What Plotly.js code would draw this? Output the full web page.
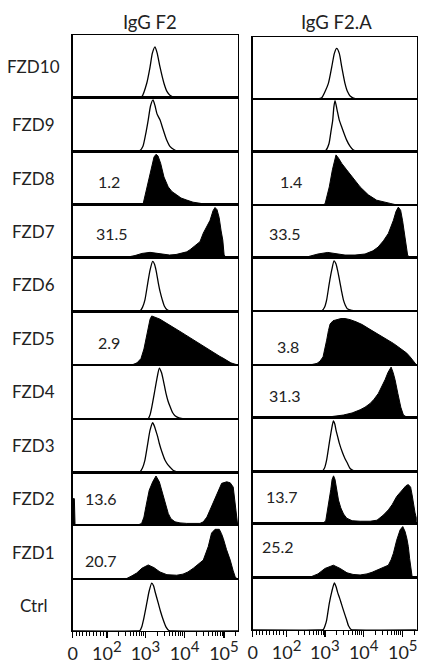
<!DOCTYPE html>
<html>
<head>
<meta charset="utf-8">
<script src="https://cdn.plot.ly/plotly-3.0.1.min.js"></script>
<style>
  html, body { margin: 0; padding: 0; background: #fff; }
  #chart { width: 424px; height: 666px; }
</style>
</head>
<body>
<div id="chart"></div>
<script>
// ---------------- DATA ----------------
const rowNames = ["FZD10","FZD9","FZD8","FZD7","FZD6","FZD5","FZD4","FZD3","FZD2","FZD1","Ctrl"];
const colTitles = ["IgG F2","IgG F2.A"];
const tickVals = [0, 207, 440, 677, 915];
const tickBase = ["0","10","10","10","10"];
const tickExp  = ["","2","3","4","5"];

// percentages shown in each row ("" = none)
const f2Pct  = ["", "", "1.2", "31.5", "", "2.9", "", "", "13.6", "20.7", ""];
const f2aPct = ["", "", "1.4", "33.5", "", "3.8", "31.3", "", "13.7", "25.2", ""];

// filled (stained) vs open (unstained) histograms
const f2Filled  = [false,false,true,true,false,true,false,false,true,true,false];
const f2aFilled = [false,false,true,true,false,true,true,false,true,true,false];

// histogram curves: x in display channel units (0-1000), y = normalised count
const f2X = [
  [0,395,419,448,468,482,498,511,528,552,570,588,625,1000],
  [0,383,407,425,443,457,471,486,498,510,528,546,568,588,612,636,661,1000],
  [0,407,427,451,472,492,504,516,532,552,578,601,629,655,690,728,770,800,1000],
  [0,286,329,377,419,468,516,559,586,625,661,690,710,730,752,770,790,812,831,849,861,873,886,898,908,916,928,988,1000],
  [0,383,407,422,437,454,468,484,495,504,518,528,542,555,569,588,613,1000],
  [0,335,365,389,413,431,443,456,468,478,498,528,559,588,619,649,685,730,770,800,831,861,891,909,933,957,988,1000],
  [0,431,457,468,479,494,508,524,537,548,564,577,589,604,619,643,673,1000],
  [0,383,407,422,437,454,468,484,495,502,514,524,540,558,574,588,607,631,654,1000],
  [0,10,14,20,347,395,417,431,443,463,484,504,524,534,548,564,578,594,619,649,690,770,790,812,840,871,901,932,953,971,983,992,998,1000],
  [0,286,327,359,387,419,457,492,528,570,629,667,697,730,758,790,820,840,861,887,900,911,930,953,971,983,995,1000],
  [0,383,407,418,428,448,462,478,489,498,518,531,548,564,582,607,1000]
];
const f2Y = [
  [0,0,0.02,0.23,0.49,0.71,0.81,0.71,0.49,0.23,0.1,0.04,0,0],
  [0,0,0.02,0.1,0.35,0.59,0.85,0.96,0.85,0.7,0.59,0.42,0.22,0.1,0.04,0.01,0,0],
  [0,0,0.02,0.33,0.65,0.9,0.95,0.92,0.78,0.52,0.33,0.24,0.18,0.12,0.08,0.04,0.02,0,0],
  [0,0,0.01,0.04,0.08,0.1,0.08,0.05,0.05,0.06,0.08,0.11,0.15,0.2,0.25,0.3,0.46,0.58,0.7,0.88,0.94,0.9,0.75,0.5,0.33,0.05,0.01,0,0],
  [0,0,0.01,0.08,0.22,0.53,0.77,0.93,0.88,0.77,0.53,0.38,0.22,0.1,0.04,0.01,0,0],
  [0,0,0.01,0.04,0.12,0.3,0.5,0.7,0.86,0.92,0.9,0.86,0.8,0.74,0.69,0.63,0.56,0.47,0.39,0.33,0.28,0.22,0.16,0.13,0.08,0.04,0.01,0],
  [0,0,0.01,0.08,0.23,0.48,0.72,0.94,0.86,0.72,0.48,0.33,0.23,0.12,0.06,0.02,0,0],
  [0,0,0.01,0.08,0.23,0.54,0.79,0.93,0.86,0.79,0.67,0.54,0.38,0.23,0.15,0.1,0.04,0.01,0,0],
  [0.5,0.5,0.02,0,0,0,0.03,0.15,0.35,0.66,0.82,0.93,0.82,0.7,0.54,0.36,0.22,0.12,0.06,0.04,0.03,0.03,0.06,0.15,0.35,0.6,0.79,0.82,0.8,0.72,0.4,0.05,0,0],
  [0,0,0.01,0.06,0.11,0.2,0.26,0.21,0.13,0.08,0.07,0.09,0.13,0.2,0.27,0.35,0.6,0.85,0.92,0.92,0.84,0.75,0.55,0.35,0.15,0.04,0,0],
  [0,0,0.01,0.08,0.21,0.53,0.76,0.92,0.87,0.76,0.53,0.38,0.21,0.08,0.01,0,0]
];
const f2aX = [
  [0,398,421,461,482,498,512,528,543,563,578,594,630,1000],
  [0,423,447,465,478,488,495,502,514,528,545,573,594,614,642,1000],
  [0,423,441,467,486,500,508,523,543,573,604,655,705,756,838,880,1000],
  [0,289,337,398,458,508,563,624,685,733,764,797,827,858,874,888,902,914,926,935,945,960,996,1000],
  [0,398,423,438,451,467,482,496,508,517,533,542,553,566,577,604,630,1000],
  [0,319,362,392,410,429,441,451,462,472,490,514,538,563,594,630,667,715,756,807,858,899,939,960,978,990,999,1000],
  [0,380,453,553,606,655,685,716,740,766,789,807,825,844,856,868,885,893,903,919,940,960,1000],
  [0,398,423,438,451,467,480,492,501,508,518,528,549,563,577,594,614,637,1000],
  [0,398,429,445,461,476,484,493,502,512,523,537,554,573,606,655,716,758,797,827,850,878,899,919,935,949,963,972,981,990,999,1000],
  [0,319,350,398,441,492,533,575,612,655,697,728,756,789,827,844,858,878,899,915,929,940,949,957,964,972,984,1000],
  [0,398,431,441,451,467,482,498,508,517,533,543,553,573,584,600,624,1000]
];
const f2aY = [
  [0,0,0.02,0.25,0.52,0.74,0.82,0.74,0.52,0.25,0.12,0.05,0,0],
  [0,0,0.03,0.15,0.4,0.6,0.85,0.97,0.8,0.6,0.45,0.22,0.1,0.03,0,0],
  [0,0,0.02,0.34,0.66,0.88,0.94,0.88,0.78,0.66,0.53,0.34,0.19,0.09,0.03,0,0],
  [0,0,0.02,0.07,0.1,0.08,0.05,0.05,0.07,0.13,0.2,0.32,0.46,0.71,0.88,0.96,0.9,0.7,0.45,0.2,0.04,0.01,0,0],
  [0,0,0.01,0.07,0.21,0.52,0.77,0.94,0.88,0.77,0.52,0.37,0.21,0.1,0.04,0.01,0,0],
  [0,0,0.01,0.03,0.07,0.15,0.3,0.46,0.64,0.76,0.82,0.84,0.86,0.86,0.84,0.8,0.75,0.66,0.59,0.5,0.4,0.31,0.22,0.15,0.07,0.03,0,0],
  [0,0,0.01,0.05,0.09,0.15,0.2,0.27,0.35,0.46,0.6,0.72,0.86,0.96,0.86,0.72,0.46,0.35,0.2,0.05,0.01,0,0],
  [0,0,0.01,0.07,0.22,0.53,0.77,0.94,0.88,0.77,0.65,0.53,0.34,0.24,0.16,0.06,0.02,0,0],
  [0,0,0.01,0.04,0.32,0.65,0.85,0.92,0.85,0.65,0.45,0.3,0.18,0.1,0.05,0.04,0.04,0.06,0.16,0.26,0.36,0.52,0.6,0.68,0.73,0.75,0.7,0.55,0.35,0.2,0.1,0],
  [0,0,0.01,0.07,0.17,0.23,0.17,0.09,0.06,0.05,0.07,0.1,0.14,0.18,0.23,0.33,0.45,0.69,0.88,0.94,0.85,0.72,0.57,0.35,0.14,0.02,0,0],
  [0,0,0.01,0.08,0.19,0.51,0.73,0.9,0.83,0.73,0.58,0.48,0.38,0.19,0.08,0.01,0,0]
];

// ---------------- LAYOUT (pixel geometry) ----------------
const W = 424, H = 666;
const FONT = "Lato, 'Open Sans', sans-serif";
const colX = [[72.7, 238], [252.7, 416.7]];
const rowEdges = [
  [35, 97.7, 151.7, 204.3, 257.7, 311.7, 365, 419, 472.3, 525, 579, 631],
  [37.3, 99, 151.7, 205, 257.7, 311, 365, 417.7, 471.7, 523.3, 577.7, 630]
];
const pctPos = [
  [null,null,[141,0.44],[131,0.46],null,[141,0.42],null,null,[64,0.51],[64,0.35],null],
  [null,null,[156,0.45],[85,0.46],null,[136,0.35],[85,0.43],null,[69,0.52],[45,0.58],null]
];
const titlePx = [[150, 22], [336.7, 22]];
const rowLabelX = 33;

const px2x = p => p / W;
const px2y = p => 1 - p / H;

const tickText = tickBase.map((b, i) =>
  tickExp[i] ? b + "<sup><span style='font-size:15px'>" + tickExp[i] + "</span></sup>" : b);

const cols = [
  {X: f2X, Y: f2Y, filled: f2Filled, pct: f2Pct},
  {X: f2aX, Y: f2aY, filled: f2aFilled, pct: f2aPct}
];

// minor tick positions (logicle-like display)
const minorVals = [];
for (let m = 1; m <= 9; m++) minorVals.push(tickVals[1] * m / 10);
for (let i = 1; i < tickVals.length - 1; i++) {
  for (let m = 2; m <= 9; m++) minorVals.push(tickVals[i] + (tickVals[i+1] - tickVals[i]) * Math.log10(m));
}
minorVals.push(tickVals[4] + (tickVals[4] - tickVals[3]) * Math.log10(2));

const traces = [];
const layout = {
  width: W, height: H,
  margin: {l: 0, r: 0, t: 0, b: 0},
  paper_bgcolor: "#fff", plot_bgcolor: "#fff",
  showlegend: false,
  font: {family: FONT, color: "#000", size: 16},
  annotations: []
};

let k = 0;
cols.forEach((col, c) => {
  for (let r = 0; r < rowNames.length; r++) {
    k++;
    const xa = "xaxis" + (k === 1 ? "" : k), ya = "yaxis" + (k === 1 ? "" : k);
    const xr = "x" + (k === 1 ? "" : k), yr = "y" + (k === 1 ? "" : k);
    const bottom = r === rowNames.length - 1;
    layout[xa] = {
      domain: [px2x(colX[c][0]), px2x(colX[c][1])],
      anchor: yr, range: [0, 1000], fixedrange: true,
      showline: true, mirror: true, linecolor: "#000", linewidth: 1.4,
      showgrid: false, zeroline: false,
      showticklabels: bottom, ticks: bottom ? "outside" : "",
      tickmode: "array", tickvals: tickVals, ticktext: tickText,
      ticklen: 6, tickwidth: 1.3, tickcolor: "#000",
      tickfont: {family: FONT, size: 18, color: "#222"}
    };
    if (bottom) {
      layout[xa].minor = {tickmode: "array", tickvals: minorVals, ticks: "outside", ticklen: 4, tickwidth: 1, tickcolor: "#000"};
    }
    layout[ya] = {
      domain: [px2y(rowEdges[c][r+1]), px2y(rowEdges[c][r])],
      anchor: xr, range: [0, 1], fixedrange: true,
      showline: true, mirror: true, linecolor: "#000", linewidth: 1.4,
      showgrid: false, zeroline: false, showticklabels: false, ticks: ""
    };
    const filled = col.filled[r];
    traces.push({
      type: "scatter", mode: "lines",
      x: col.X[r], y: col.Y[r], xaxis: xr, yaxis: yr,
      line: {color: "#000", width: filled ? 1 : 1.3, shape: filled ? "linear" : "spline", smoothing: 0.6},
      fill: filled ? "tozeroy" : "none", fillcolor: "#000",
      hoverinfo: "skip"
    });
    if (col.pct[r]) {
      const p = pctPos[c][r];
      layout.annotations.push({
        xref: xr, yref: yr, x: p[0], y: p[1], xanchor: "left", yanchor: "middle",
        text: col.pct[r], showarrow: false, font: {family: FONT, size: 16, color: "#222"}
      });
    }
  }
});

// row labels
rowNames.forEach((name, r) => {
  const mid = (rowEdges[0][r] + rowEdges[0][r+1]) / 2;
  layout.annotations.push({
    xref: "paper", yref: "paper", x: px2x(rowLabelX), y: px2y(mid),
    xanchor: "center", yanchor: "middle", text: name, showarrow: false,
    font: {family: FONT, size: 17, color: "#222"}
  });
});
// column titles
colTitles.forEach((t, c) => {
  layout.annotations.push({
    xref: "paper", yref: "paper", x: px2x(titlePx[c][0]), y: px2y(titlePx[c][1]),
    xanchor: "center", yanchor: "middle", text: t, showarrow: false,
    font: {family: FONT, size: 18.5, color: "#222"}
  });
});

Plotly.newPlot("chart", traces, layout, {staticPlot: true, displayModeBar: false});
</script>
</body>
</html>
